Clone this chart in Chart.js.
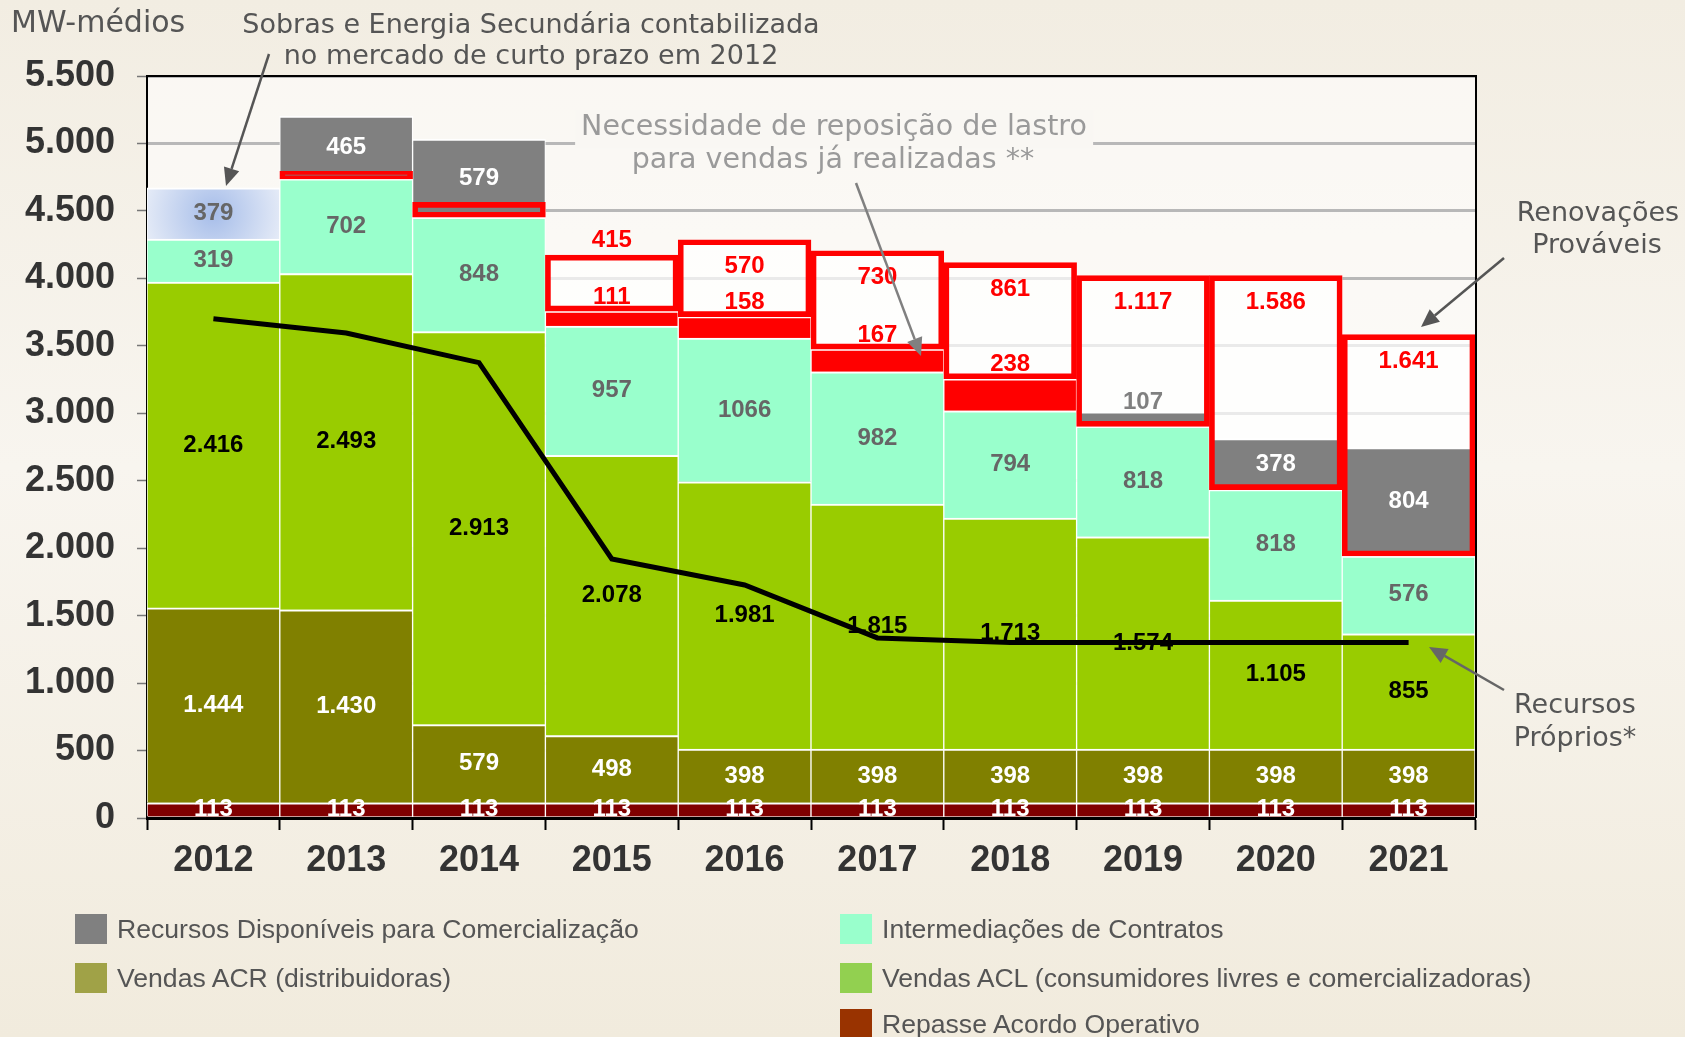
<!DOCTYPE html>
<html lang="pt-BR">
<head>
<meta charset="utf-8">
<title>Balanço de energia 2012-2021</title>
<script src="https://cdn.jsdelivr.net/npm/chart.js@4.4.1/dist/chart.umd.min.js"></script>
<style>
    html, body { margin: 0; padding: 0; }
    body {
        width: 1685px; height: 1037px; overflow: hidden; position: relative;
        background: linear-gradient(180deg, #f2ede2 0%, #f8f5ef 45%, #f1ebdd 100%);
        font-family: "DejaVu Sans", sans-serif;
    }
    #caixaGrafico { position: absolute; left: 0; top: 0; width: 1685px; height: 1037px; }
    .nota {
        position: absolute; transform: translate(-50%, -50%);
        white-space: nowrap; font-size: 27px; line-height: 1; color: #555;
    }
    .nota.clara { color: #9a9a9a; font-size: 28.5px; }
    .nota.fundo { background: #f9f7f3; padding: 2px 6px 8px; }
    .legenda {
        position: absolute; height: 30px; display: flex; align-items: center;
        font-family: "Liberation Sans", Arial, sans-serif; font-size: 26.6px; color: #555;
    }
    .legenda .cor { width: 32px; height: 30px; margin-right: 10px; flex: none; }
</style>
</head>
<body>
<div id="caixaGrafico"><canvas id="balancoChart"></canvas></div>

<div class="nota" style="left:11px; top:22px; transform:translateY(-50%); font-size:30px;">MW-médios</div>
<div class="nota" style="left:531px; top:23px;">Sobras e Energia Secundária contabilizada</div>
<div class="nota" style="left:531px; top:54px;">no mercado de curto prazo em 2012</div>
<div class="nota clara fundo" style="left:834px; top:129px;">Necessidade de reposição de lastro</div>
<div class="nota clara" style="left:833px; top:159px;">para vendas já realizadas **</div>
<div class="nota" style="left:1598px; top:211px;">Renovações</div>
<div class="nota" style="left:1597px; top:243px;">Prováveis</div>
<div class="nota" style="left:1575px; top:703px;">Recursos</div>
<div class="nota" style="left:1575px; top:736px;">Próprios*</div>

<div class="legenda" style="left:75px; top:914px;"><span class="cor" style="background:#808080"></span>Recursos Disponíveis para Comercialização</div>
<div class="legenda" style="left:75px; top:963px;"><span class="cor" style="background:#a0a247"></span>Vendas ACR (distribuidoras)</div>
<div class="legenda" style="left:840px; top:914px;"><span class="cor" style="background:#99ffcc"></span>Intermediações de Contratos</div>
<div class="legenda" style="left:840px; top:963px;"><span class="cor" style="background:#92d050"></span>Vendas ACL (consumidores livres e comercializadoras)</div>
<div class="legenda" style="left:840px; top:1009px;"><span class="cor" style="background:#993300"></span>Repasse Acordo Operativo</div>

<script>
// ---- dados (MW-médios) ----
const anos = ['2012', '2013', '2014', '2015', '2016', '2017', '2018', '2019', '2020', '2021'];
const repasse = [113, 113, 113, 113, 113, 113, 113, 113, 113, 113];
const vendasACR = [1444, 1430, 579, 498, 398, 398, 398, 398, 398, 398];
const vendasACL = [2416, 2493, 2913, 2078, 1981, 1815, 1713, 1574, 1105, 855];
const intermediacoes = [319, 702, 848, 957, 1066, 982, 794, 818, 818, 576];
const necessidade = [null, null, null, 111, 158, 167, 238, null, null, null];
const disponiveis = [null, 465, 579, null, null, null, null, 107, 378, 804];
const sobras = [379, null, null, null, null, null, null, null, null, null];
const renovacoes = [null, 55, 110, 415, 570, 730, 861, 1117, 1586, 1641];
const recursosProprios = [3700, 3595, 3375, 1920, 1727, 1335, 1300, 1300, 1300, 1300];
const ticksY = [0, 500, 1000, 1500, 2000, 2500, 3000, 3500, 4000, 4500, 5000, 5500];

// milhar com ponto (pt-BR)
const formatar = (v) => String(v).replace(/\B(?=(\d{3})+(?!\d))/g, '.');

// caixas de renovação: começam no topo da parte contratada
const caixas = anos.map((a, i) => {
    if (renovacoes[i] == null) return null;
    const base = repasse[i] + vendasACR[i] + vendasACL[i] + intermediacoes[i] + (necessidade[i] || 0);
    return [base, base + renovacoes[i]];
});

const FONTE = '"Liberation Sans", Arial, sans-serif';
const bordaBranca = { top: 2, right: 1, bottom: 0, left: 1 };

// gradiente azulado das sobras de 2012
function corSobras(context) {
    const chart = context.chart;
    if (!chart.chartArea) return '#c8d5ef';
    const xs = chart.scales.x, ys = chart.scales.y;
    const i = context.dataIndex;
    const base = repasse[i] + vendasACR[i] + vendasACL[i] + intermediacoes[i];
    const cx = xs.getPixelForValue(i);
    const cy = ys.getPixelForValue(base + (sobras[i] || 0) / 2);
    const g = chart.ctx.createRadialGradient(cx, cy, 0, cx, cy, 75);
    g.addColorStop(0, '#a6bde9');
    g.addColorStop(1, '#e9eef8');
    return g;
}

// rótulos dos segmentos, desenhados antes da linha preta
const rotulosPlugin = {
    id: 'rotulos',
    afterDatasetDraw(chart, args) {
        if (chart.data.datasets[args.index].nome !== 'caixa') return;
        const ctx = chart.ctx;
        ctx.save();
        ctx.font = 'bold 24px ' + FONTE;
        ctx.textAlign = 'center';
        ctx.textBaseline = 'middle';
        chart.data.datasets.forEach((ds, d) => {
            if (!ds.rotulo) return;
            const meta = chart.getDatasetMeta(d);
            meta.data.forEach((el, j) => {
                let v = ds.data[j];
                if (v == null) return;
                if (Array.isArray(v)) v = v[1] - v[0];
                const r = ds.rotulo;
                const h = el.base - el.y;
                let y = (el.y + el.base) / 2;
                let cor = r.cor;
                if (r.modo === 'acima') {
                    y = el.y - 14;
                } else if (r.modo === 'caixa') {
                    if (h < 24) return;
                    y = h < 60 ? el.y - 15 : el.y + 27;
                } else if (r.corPequeno && h < 20) {
                    y = el.y - 10;
                    cor = r.corPequeno;
                }
                ctx.fillStyle = cor;
                ctx.fillText(r.semMilhar ? String(v) : formatar(v), el.x, y);
            });
        });
        ctx.restore();
    }
};

// fundo da área do gráfico, moldura superior/direita e setas das notas
const molduraPlugin = {
    id: 'moldura',
    beforeDraw(chart) {
        const { ctx, chartArea: a } = chart;
        ctx.save();
        ctx.fillStyle = 'rgba(255, 255, 255, 0.55)';
        ctx.fillRect(a.left, a.top, a.right - a.left, a.bottom - a.top);
        ctx.restore();
    },
    afterDatasetsDraw(chart) {
        const { ctx, chartArea: a } = chart;
        ctx.save();
        ctx.strokeStyle = '#000';
        ctx.lineWidth = 2;
        ctx.beginPath();
        ctx.moveTo(a.left, a.top);
        ctx.lineTo(a.right + 1, a.top);
        ctx.lineTo(a.right + 1, a.bottom);
        ctx.stroke();
        ctx.restore();
    },
    afterDraw(chart) {
        const ctx = chart.ctx;
        const seta = (x1, y1, x2, y2, cor) => {
            const ang = Math.atan2(y2 - y1, x2 - x1);
            const L = 18, W = 8;
            ctx.strokeStyle = cor;
            ctx.fillStyle = cor;
            ctx.lineWidth = 2.5;
            ctx.beginPath();
            ctx.moveTo(x1, y1);
            ctx.lineTo(x2 - L * Math.cos(ang), y2 - L * Math.sin(ang));
            ctx.stroke();
            ctx.beginPath();
            ctx.moveTo(x2, y2);
            ctx.lineTo(x2 - L * Math.cos(ang) + W * Math.sin(ang), y2 - L * Math.sin(ang) - W * Math.cos(ang));
            ctx.lineTo(x2 - L * Math.cos(ang) - W * Math.sin(ang), y2 - L * Math.sin(ang) + W * Math.cos(ang));
            ctx.closePath();
            ctx.fill();
        };
        ctx.save();
        seta(269, 54, 226, 186, '#555');
        seta(856, 183, 921, 356, '#808080');
        seta(1504, 258, 1421, 327, '#555');
        seta(1504, 690, 1429, 647, '#666');
        ctx.restore();
    }
};

const barraBase = {
    type: 'bar',
    stack: 'principal',
    order: 2,
    borderColor: '#ffffff',
    borderWidth: bordaBranca,
    borderSkipped: false
};

const balancoCtx = document.getElementById('balancoChart');
new Chart(balancoCtx, {
    data: {
        labels: anos,
        datasets: [
            { ...barraBase, label: 'Repasse Acordo Operativo', data: repasse,
              backgroundColor: '#800000', rotulo: { cor: '#ffffff' } },
            { ...barraBase, label: 'Vendas ACR (distribuidoras)', data: vendasACR,
              backgroundColor: '#808000', rotulo: { cor: '#ffffff' } },
            { ...barraBase, label: 'Vendas ACL (consumidores livres e comercializadoras)', data: vendasACL,
              backgroundColor: '#99cc00', rotulo: { cor: '#000000' } },
            { ...barraBase, label: 'Intermediações de Contratos', data: intermediacoes,
              backgroundColor: '#99ffcc', rotulo: { cor: '#666666', semMilhar: true } },
            { ...barraBase, label: 'Necessidade de reposição de lastro', data: necessidade,
              backgroundColor: '#ff0000', rotulo: { cor: '#ff0000', modo: 'acima' } },
            { ...barraBase, label: 'Recursos Disponíveis para Comercialização', data: disponiveis,
              backgroundColor: '#808080', rotulo: { cor: '#ffffff', corPequeno: '#808080' } },
            { ...barraBase, label: 'Sobras e Energia Secundária', data: sobras,
              backgroundColor: corSobras, rotulo: { cor: '#666666' } },
            {
                type: 'bar', label: 'Renovações Prováveis (fundo)', nome: 'fundo',
                data: caixas, stack: 'fundo', grouped: false, order: 3,
                backgroundColor: 'rgba(255, 255, 255, 0.7)', borderWidth: 0
            },
            {
                type: 'bar', label: 'Renovações Prováveis', nome: 'caixa',
                data: caixas, stack: 'caixa', grouped: false, order: 1,
                backgroundColor: 'rgba(0, 0, 0, 0)', borderColor: '#ff0000',
                borderWidth: 5, borderSkipped: false,
                rotulo: { cor: '#ff0000', modo: 'caixa' }
            },
            {
                type: 'line', label: 'Recursos Próprios*', data: recursosProprios,
                stack: 'linha', order: 0,
                borderColor: '#000000', borderWidth: 5, pointRadius: 0, tension: 0,
                fill: false
            }
        ]
    },
    options: {
        responsive: true,
        maintainAspectRatio: false,
        animation: false,
        datasets: {
            bar: { barPercentage: 1, categoryPercentage: 1 }
        },
        layout: {
            padding: { top: 76, right: 210, bottom: 0, left: 0 }
        },
        plugins: {
            legend: { display: false },
            tooltip: { enabled: false }
        },
        scales: {
            x: {
                stacked: true,
                afterFit: (axis) => { axis.height = 219; },
                grid: {
                    offset: true,
                    drawOnChartArea: false,
                    tickLength: 12,
                    tickColor: '#000',
                    tickWidth: 2
                },
                border: { color: '#000', width: 3 },
                ticks: {
                    color: '#333',
                    padding: 9,
                    font: { family: FONTE, size: 36, weight: 'bold' }
                }
            },
            y: {
                stacked: true,
                min: 0,
                max: 5500,
                afterFit: (axis) => { axis.width = 147; },
                afterBuildTicks: (axis) => { axis.ticks = ticksY.map(v => ({ value: v })); },
                grid: {
                    color: '#b8b8b8',
                    lineWidth: 3,
                    tickLength: 10,
                    tickColor: '#777',
                    tickWidth: 1.5
                },
                border: { color: '#000', width: 2 },
                ticks: {
                    color: '#333',
                    padding: 22,
                    font: { family: FONTE, size: 36, weight: 'bold' },
                    callback: (v) => formatar(v)
                }
            }
        }
    },
    plugins: [rotulosPlugin, molduraPlugin]
});
</script>
</body>
</html>
